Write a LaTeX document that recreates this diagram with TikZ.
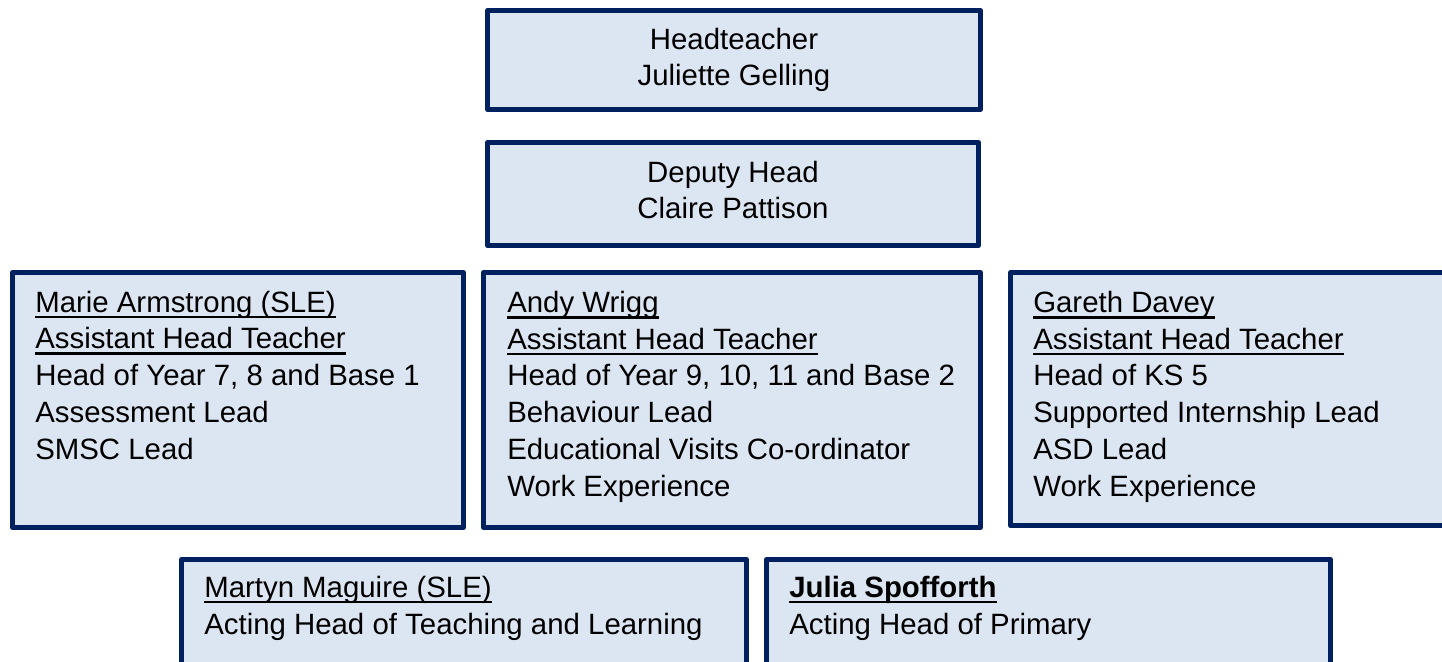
\documentclass[tikz,border=0pt]{standalone}
\usepackage{fontspec}
\setmainfont{Liberation Sans}
\usepackage{tikz}
\usetikzlibrary{calc,positioning}
\definecolor{boxfill}{HTML}{DCE6F2}
\definecolor{boxline}{HTML}{002060}
\newsavebox{\ulbox}
\newcommand{\uln}[1]{\sbox{\ulbox}{#1}\rlap{\rule[-4.4pt]{\wd\ulbox}{2pt}}\usebox{\ulbox}}

\begin{document}
\begin{tikzpicture}[x=0.025cm,y=-0.025cm,
  box/.style={draw=boxline,fill=boxfill,line width=0.125cm,line join=round},
  txt/.style={inner sep=0pt,align=left,font=\fontsize{20.9}{26.1}\selectfont}]
  \clip (0,0) rectangle (1442,662);
  % boxes
  \draw[box] (487.5,10.5) rectangle (980.5,109.5);
  \draw[box] (487.5,142.5) rectangle (978.5,245.5);
  \draw[box] (12.5,272.5) rectangle (463.5,527.5);
  \draw[box] (483.5,272.5) rectangle (980.5,527.5);
  \draw[box] (1010.5,272.5) rectangle (1460,525.5);
  \draw[box] (181.5,559.5) rectangle (746.5,680);
  \draw[box] (766.5,559.5) rectangle (1330.5,680);
  % texts, placed at the baseline of their last line
  \node[txt,align=center,anchor=base] (head) at (734,86) {Headteacher\\Juliette Gelling};
  \node[txt,align=center,anchor=base] (deputy) at (733,219) {Deputy Head\\Claire Pattison};
  \node[txt,anchor=base west] (marie) at (35,459) {\uln{Marie Armstrong (SLE)}\\\uln{Assistant Head Teacher}\\Head of Year 7, 8 and Base 1\\Assessment Lead\\SMSC Lead};
  \node[txt,anchor=base west] (andy) at (507,496) {\uln{Andy Wrigg}\\\uln{Assistant Head Teacher}\\Head of Year 9, 10, 11 and Base 2\\Behaviour Lead\\Educational Visits Co-ordinator\\Work Experience};
  \node[txt,anchor=base west] (gareth) at (1033,496) {\uln{Gareth Davey}\\\uln{Assistant Head Teacher}\\Head of KS 5\\Supported Internship Lead\\ASD Lead\\Work Experience};
  \node[txt,anchor=base west] (martyn) at (204,634) {\uln{Martyn Maguire (SLE)}\\Acting Head of Teaching and Learning};
  \node[txt,anchor=base west] (julia) at (789,634) {\uln{\textbf{Julia Spofforth}}\\Acting Head of Primary};
\end{tikzpicture}
\end{document}
